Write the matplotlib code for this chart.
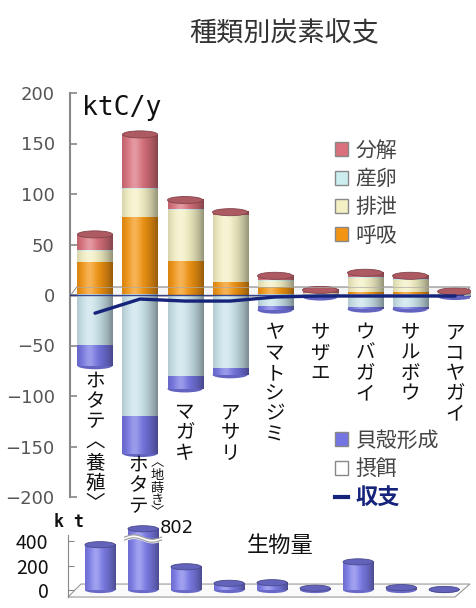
import matplotlib
matplotlib.use('Agg')
import matplotlib.pyplot as plt
import numpy as np
from matplotlib.patches import Ellipse, Polygon, Patch
from matplotlib.lines import Line2D
from matplotlib.colors import to_rgb

plt.rcParams['font.family'] = ['Noto Sans CJK JP', 'DejaVu Sans']

# Data (ktC/y)
species = ['ホタテ〈養殖〉', 'ホタテ〈地蒔き〉', 'マガキ', 'アサリ', 'ヤマトシジミ',
           'サザエ', 'ウバガイ', 'サルボウ', 'アコヤガイ']
respiration = [33, 77, 34, 13, 8, 1, 3, 3, 1]            # 呼吸
excretion = [11, 28, 50, 66, 6, 1, 14, 12, 0.5]           # 排泄
spawning = [1, 1, 1, 0, 1, 0, 1, 1, 0]                    # 産卵
decomposition = [15, 53, 9, 3, 4, 3, 4, 3, 2]             # 分解
feeding = [-50, -120, -81, -73, -12, -1, -13, -13, -1]    # 摂餌
shell = [-20, -37, -12, -6, -3, -1, -1, -1, -0.5]         # 貝殻形成
balance = [-18, -4, -6, -6, -2, -1, -1, -1, -1]           # 収支
biomass = [370, 802, 190, 55, 60, 15, 230, 20, 5]         # 生物量 (kt)
y_ticks = [-200, -150, -100, -50, 0, 50, 100, 150, 200]
bio_ticks = [0, 200, 400]

# colours
C_RESP = '#F39512'
C_EXCR = '#F3F0C4'
C_SPAWN = '#CDEEEE'
C_DECO = '#D9707B'
C_FEED = '#C9E3EA'
C_SHELL = '#7474E2'
C_BAL = '#15237A'
C_BIO = '#7C7CEA'


def strip(color, n=48):
    # horizontal shading so a bar looks like a cylinder
    t = np.linspace(-1, 1, n)
    k = 1.0 - 0.38 * ((t + 0.3) / 1.3) ** 2
    rgb = np.array(to_rgb(color))
    s = rgb[None, :] * k[:, None]
    hl = 0.28 * np.exp(-((t + 0.3) / 0.35) ** 2)
    s = s + (1 - s) * hl[:, None]
    return np.clip(s[None, :, :], 0, 1)


def darker(color, f=0.78):
    return tuple(np.array(to_rgb(color)) * f)


def cylinder(ax, x, y0, y1, w, color):
    if y1 == y0:
        return
    ax.imshow(strip(color), extent=(x - w / 2, x + w / 2, min(y0, y1), max(y0, y1)),
              aspect='auto', interpolation='bilinear', zorder=3)


def vertical(s):
    return '\n'.join(s.replace('〈', '︿').replace('〉', '﹀'))


def main():
    fig = plt.figure(figsize=(4.77, 6.08), dpi=100)
    ax = fig.add_axes([70 / 477, 1 - 497 / 608, 400 / 477, 404 / 608])
    n = len(species)
    xs = np.arange(n)
    w = 0.78
    cap = 7

    # stacked cylinders
    pos_series = [(respiration, C_RESP), (excretion, C_EXCR), (spawning, C_SPAWN), (decomposition, C_DECO)]
    neg_series = [(feeding, C_FEED), (shell, C_SHELL)]
    for i in range(n):
        base = 0
        top_col = C_RESP
        for vals, col in pos_series:
            if vals[i] > 0:
                cylinder(ax, xs[i], base, base + vals[i], w, col)
                base += vals[i]
                top_col = col
        ax.add_patch(Ellipse((xs[i], base), w, cap, facecolor=darker(top_col, 0.8),
                             edgecolor=darker(top_col, 0.6), lw=0.6, zorder=4))
        base = 0
        bot_col = C_FEED
        for vals, col in neg_series:
            cylinder(ax, xs[i], base, base + vals[i], w, col)
            base += vals[i]
            bot_col = col
        ax.add_patch(Ellipse((xs[i], base), w, cap, facecolor=darker(bot_col, 0.85),
                             edgecolor='none', zorder=2))

    # floor plane at zero
    xl, xr = -0.556, 8.33
    ax.add_patch(Polygon([(xl, -1), (xr - 0.15, -1), (xr, 8), (xl + 0.15, 8)],
                         closed=True, facecolor='#f4f4f4', edgecolor='#999999', lw=0.8,
                         zorder=1, clip_on=False))
    ax.plot([xl + 0.15, xr], [8, 8], color='#aaaaaa', lw=0.7, alpha=0.7, zorder=5)
    ax.plot([xl, xr - 0.15], [0, 0], color=C_BAL, lw=1.0, alpha=0.8, zorder=5)

    # balance line
    ax.plot(xs, balance, color=C_BAL, lw=2.4, zorder=6, solid_capstyle='round')

    ax.set_xlim(xl, xr)
    ax.set_ylim(-200, 200)
    ax.set_xticks([])
    ax.set_yticks(y_ticks)
    ax.tick_params(axis='y', direction='in', length=5, width=1.2, color='#888888',
                   labelcolor='#555555', labelsize=13, pad=11)
    for lab in ax.get_yticklabels():
        lab.set_family(['Liberation Sans Narrow', 'DejaVu Sans'])
    for s in ['top', 'right', 'bottom']:
        ax.spines[s].set_visible(False)
    ax.spines['left'].set_color('#888888')
    ax.spines['left'].set_linewidth(1.5)
    ax.patch.set_alpha(0)

    ax.text(0.03, 0.995, 'ktC/y', transform=ax.transAxes, fontsize=19,
            family='DejaVu Sans Mono', va='top', ha='left', color='#111111')

    # vertical species labels
    label_top = [-75, -158, -106, -106, -27, -27, -27, -27, -27]
    for i in range(n):
        name = species[i]
        if i == 1:
            main_name, note = name.split('〈')
            ax.text(xs[i] - 0.05, label_top[i], vertical(main_name), ha='center', va='top',
                    fontsize=14, linespacing=0.98, color='#111111', clip_on=False, zorder=7)
            ax.text(xs[i] + 0.38, label_top[i] - 2, vertical('〈' + note), ha='center', va='top',
                    fontsize=9.5, linespacing=0.95, color='#111111', clip_on=False, zorder=7)
        else:
            ax.text(xs[i], label_top[i], vertical(name), ha='center', va='top',
                    fontsize=14, linespacing=0.96, color='#111111', clip_on=False, zorder=7)

    # legends
    h1 = [Patch(facecolor=c, edgecolor='#888888') for c in [C_DECO, C_SPAWN, C_EXCR, C_RESP]]
    leg1 = fig.legend(h1, ['分解', '産卵', '排泄', '呼吸'], loc='upper left',
                      bbox_to_anchor=(316 / 477, 1 - 121 / 608), frameon=False, fontsize=15,
                      handlelength=0.65, handleheight=0.65, handletextpad=0.35, labelspacing=0.3)
    for t in leg1.get_texts():
        t.set_color('#444444')
    h2 = [Patch(facecolor=C_SHELL, edgecolor='#888888'), Patch(facecolor='white', edgecolor='#888888'),
          Line2D([0], [0], color=C_BAL, lw=3)]
    leg2 = fig.legend(h2, ['貝殻形成', '摂餌', '収支'], loc='upper left',
                      bbox_to_anchor=(316 / 477, 1 - 411 / 608), frameon=False, fontsize=15,
                      handlelength=0.65, handleheight=0.65, handletextpad=0.35, labelspacing=0.3)
    for t in leg2.get_texts()[:2]:
        t.set_color('#444444')
    t3 = leg2.get_texts()[2]
    t3.set_color(C_BAL)
    t3.set_fontweight('bold')
    t3.set_fontsize(16)

    fig.text(284 / 477, 1 - 34 / 608, '種類別炭素収支', ha='center', va='center',
             fontsize=19.5, color='#333333')

    # biomass panel
    ax2 = fig.add_axes([68 / 477, 1 - 597.4 / 608, 402 / 477, 76 / 608])
    bw = 0.7
    bcap = 50
    shown_max = 500
    for i in range(n):
        h = min(biomass[i], shown_max)
        ax2.imshow(strip(C_BIO), extent=(xs[i] - bw / 2, xs[i] + bw / 2, 0, h),
                   aspect='auto', interpolation='bilinear', zorder=3)
        ax2.add_patch(Ellipse((xs[i], h), bw, bcap, facecolor=darker(C_BIO, 0.8),
                              edgecolor=darker(C_BIO, 0.6), lw=0.6, zorder=4))
        ax2.add_patch(Ellipse((xs[i], 0), bw, bcap, facecolor=darker(C_BIO, 0.85),
                              edgecolor='none', zorder=2))
        if biomass[i] > shown_max:
            # axis break on the tall bar
            wx = np.linspace(xs[i] - bw / 2 - 0.08, xs[i] + bw / 2 + 0.08, 40)
            wy = 420 + 18 * np.sin((wx - wx[0]) / (wx[-1] - wx[0]) * 2 * np.pi)
            ax2.fill_between(wx, wy - 12, wy + 12, color='white', zorder=5)
            ax2.plot(wx, wy - 12, color='#999999', lw=0.8, zorder=6)
            ax2.plot(wx, wy + 12, color='#999999', lw=0.8, zorder=6)
            ax2.text(xs[i] + 0.4, h + 10, str(biomass[i]), fontsize=13, family='DejaVu Sans',
                     ha='left', va='center', color='#111111', zorder=7)

    bxl, bxr = -0.744, 8.6
    ax2.add_patch(Polygon([(bxl, -57), (bxr - 0.35, -57), (bxr, 49), (bxl + 0.3, 49)],
                          closed=True, facecolor='#fafafa', edgecolor='#999999', lw=0.8,
                          zorder=1, clip_on=False))
    ax2.set_xlim(bxl, bxr)
    ax2.set_ylim(-60, 560)
    ax2.set_xticks([])
    ax2.set_yticks(bio_ticks)
    ax2.tick_params(axis='y', direction='in', length=4, color='#888888', labelsize=14,
                    labelcolor='#111111', pad=14)
    for s in ['top', 'right', 'bottom']:
        ax2.spines[s].set_visible(False)
    ax2.spines['left'].set_color('#888888')
    ax2.spines['left'].set_bounds(-57, 450)
    ax2.patch.set_alpha(0)
    ax2.text(280 / 477, 1 - 545 / 608, '生物量', transform=fig.transFigure, fontsize=16,
             ha='center', va='center', color='#111111')
    ax2.text(69 / 477, 1 - 522 / 608, 'k t', transform=fig.transFigure, fontsize=12,
             fontweight='bold', family='DejaVu Sans Mono', ha='center', va='center', color='#111111')

    fig.savefig('out.png', dpi=100)


if __name__ == "__main__": main()
